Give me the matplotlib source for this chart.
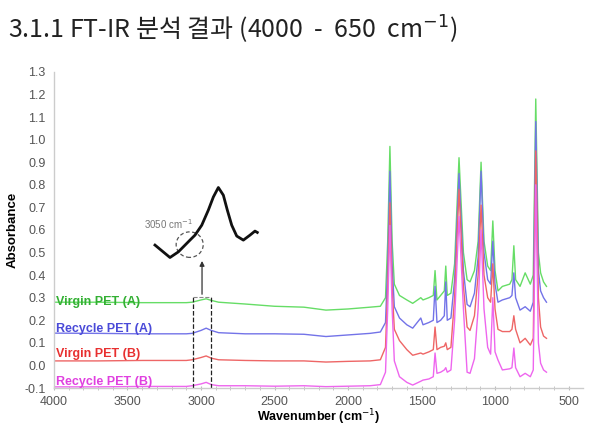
import matplotlib
matplotlib.use("Agg")
import matplotlib.pyplot as plt
from matplotlib.patches import Ellipse
import numpy as np

# wavenumber grid (cm-1) shared by the four spectra
wavenumber = [4000, 3700, 3400, 3100, 3060, 3000, 2965, 2930, 2880, 2700,
              2500, 2300, 2150, 2000, 1850, 1780, 1745, 1730, 1715, 1700,
              1685, 1650, 1600, 1560, 1505, 1490, 1450, 1420, 1408, 1395,
              1370, 1345, 1335, 1325, 1300, 1275, 1245, 1215, 1190, 1170,
              1140, 1115, 1095, 1075, 1050, 1030, 1015, 1000, 980, 950,
              900, 885, 872, 860, 830, 795, 760, 740, 723, 705,
              690, 670, 650]

virgin_a = [0.28, 0.28, 0.278, 0.278, 0.28, 0.29, 0.295, 0.288, 0.28, 0.272,
            0.262, 0.258, 0.245, 0.25, 0.258, 0.262, 0.30, 0.55, 0.97, 0.55,
            0.36, 0.31, 0.29, 0.275, 0.30, 0.29, 0.30, 0.31, 0.42, 0.29,
            0.31, 0.33, 0.44, 0.31, 0.32, 0.45, 0.92, 0.50, 0.38, 0.37,
            0.42, 0.55, 0.90, 0.55, 0.44, 0.42, 0.64, 0.42, 0.33, 0.35,
            0.36, 0.38, 0.53, 0.38, 0.35, 0.41, 0.36, 0.40, 1.18, 0.50,
            0.41, 0.37, 0.35]

recycle_a = [0.143, 0.142, 0.14, 0.14, 0.142, 0.155, 0.165, 0.155, 0.145, 0.14,
             0.14, 0.138, 0.128, 0.135, 0.142, 0.148, 0.19, 0.45, 0.86, 0.45,
             0.26, 0.21, 0.18, 0.165, 0.21, 0.18, 0.19, 0.20, 0.35, 0.19,
             0.20, 0.22, 0.37, 0.20, 0.21, 0.38, 0.85, 0.42, 0.27, 0.26,
             0.32, 0.48, 0.86, 0.50, 0.38, 0.36, 0.55, 0.36, 0.28, 0.29,
             0.30, 0.31, 0.41, 0.30, 0.245, 0.26, 0.24, 0.28, 1.08, 0.42,
             0.33, 0.30, 0.28]

virgin_b = [0.02, 0.02, 0.022, 0.022, 0.025, 0.035, 0.042, 0.032, 0.025, 0.022,
            0.02, 0.02, 0.015, 0.018, 0.02, 0.025, 0.08, 0.35, 0.72, 0.35,
            0.16, 0.11, 0.07, 0.045, 0.055, 0.05, 0.06, 0.07, 0.17, 0.07,
            0.08, 0.085, 0.10, 0.07, 0.08, 0.30, 0.78, 0.35, 0.17, 0.155,
            0.22, 0.40, 0.71, 0.40, 0.30, 0.28, 0.45, 0.25, 0.16, 0.15,
            0.15, 0.16, 0.22, 0.16, 0.10, 0.12, 0.09, 0.12, 0.95, 0.30,
            0.17, 0.13, 0.12]

recycle_b = [-0.095, -0.095, -0.093, -0.093, -0.09, -0.082, -0.075, -0.085, -0.09, -0.09,
             -0.092, -0.09, -0.094, -0.092, -0.09, -0.085, -0.03, 0.25, 0.62, 0.25,
             0.02, -0.05, -0.075, -0.087, -0.07, -0.065, -0.06, -0.05, 0.055, -0.035,
             -0.03, -0.02, -0.01, -0.03, -0.02, 0.20, 0.66, 0.25, -0.03, -0.035,
             0.03, 0.25, 0.60, 0.25, 0.08, 0.05, 0.30, 0.06, 0.024, -0.02,
             -0.015, -0.01, 0.077, -0.01, -0.05, -0.035, -0.05, -0.02, 0.80, 0.10,
             0.01, -0.02, -0.03]

# magnified C-H region drawn as inset curve
inset_wn = [3313, 3211, 3154, 3075, 3041, 2995, 2950, 2916, 2882, 2848,
            2821, 2791, 2757, 2712, 2667, 2633, 2617]
inset_abs = [0.533, 0.478, 0.503, 0.555, 0.577, 0.621, 0.688, 0.746, 0.788, 0.754,
             0.688, 0.621, 0.573, 0.555, 0.577, 0.595, 0.589]

series_names = ["Virgin PET (A)", "Recycle PET (A)", "Virgin PET (B)", "Recycle PET (B)"]
line_colors = ["#66dd66", "#7373e8", "#ee6666", "#ee66ee"]
text_colors = ["#33b033", "#4a4ad8", "#e83030", "#e040e0"]
label_y = [0.28, 0.161, 0.05, -0.073]

fig = plt.figure(figsize=(5.92, 4.26), dpi=100)
ax = fig.add_axes([0.0912, 0.0892, 0.894, 0.742])

for ys, c in zip([virgin_a, recycle_a, virgin_b, recycle_b], line_colors):
    ax.plot(wavenumber, ys, color=c, lw=1.0)

for name, c, y in zip(series_names, text_colors, label_y):
    ax.text(3986, y, name, color=c, fontsize=9, fontweight="bold",
            family="Liberation Sans", va="center", ha="left")

# inset curve + circle + arrow + dashed box
ax.plot(inset_wn, inset_abs, color="#111111", lw=2.0)
ax.add_patch(Ellipse((3077, 0.535), 184, 0.113, fill=False, ls=(0, (3, 2)),
                     ec="#555555", lw=0.9))
ax.text(3225, 0.626, "3050 cm$^{-1}$", color="#777777", fontsize=7,
        family="Liberation Sans", ha="center", va="center")
ax.annotate("", xy=(2993, 0.475), xytext=(2993, 0.303),
            arrowprops=dict(arrowstyle="-|>", color="#333333", lw=0.9,
                            mutation_scale=7))
ax.plot([3055, 3055], [-0.1, 0.303], color="#222222", ls="--", lw=0.9)
ax.plot([2932, 2932], [-0.1, 0.303], color="#222222", ls="--", lw=0.9)
ax.plot([3055, 2932], [0.303, 0.303], color="#888888", ls="--", lw=0.8)

ax.set_xlim(4000, 400)
ax.set_ylim(-0.1, 1.3)
ax.set_xticks([4000, 3500, 3000, 2500, 2000, 1500, 1000, 500])
ax.set_xticks(np.arange(4000, 400, -100), minor=True)
ax.set_yticks(np.arange(-0.1, 1.31, 0.1))
ax.set_yticklabels([f"{v:.1f}" for v in np.arange(-0.1, 1.31, 0.1)])

for s in ["top", "right"]:
    ax.spines[s].set_visible(False)
for s in ["left", "bottom"]:
    ax.spines[s].set_color("#cccccc")
    ax.spines[s].set_linewidth(1.0)
ax.tick_params(axis="y", length=0, labelsize=9, labelcolor="#555555", pad=6)
ax.tick_params(axis="x", which="both", length=3, direction="inout",
               color="#bbbbbb", labelsize=9, labelcolor="#555555", pad=4)
for lab in ax.get_xticklabels() + ax.get_yticklabels():
    lab.set_family("Liberation Sans")

ax.set_ylabel("Absorbance", fontsize=9.5, fontweight="bold",
              family="Liberation Sans", labelpad=4)
ax.set_xlabel("Wavenumber (cm$^{-1}$)", fontsize=9, fontweight="bold",
              family="Liberation Sans", labelpad=0)

fig.text(0.0135, 0.93, "3.1.1 FT-IR 분석 결과 (4000  -  650  cm$^{-1}$)",
         fontsize=18, family=["Noto Sans CJK KR", "DejaVu Sans"],
         va="center", ha="left", color="#222222")

fig.savefig("out.png", dpi=100)
